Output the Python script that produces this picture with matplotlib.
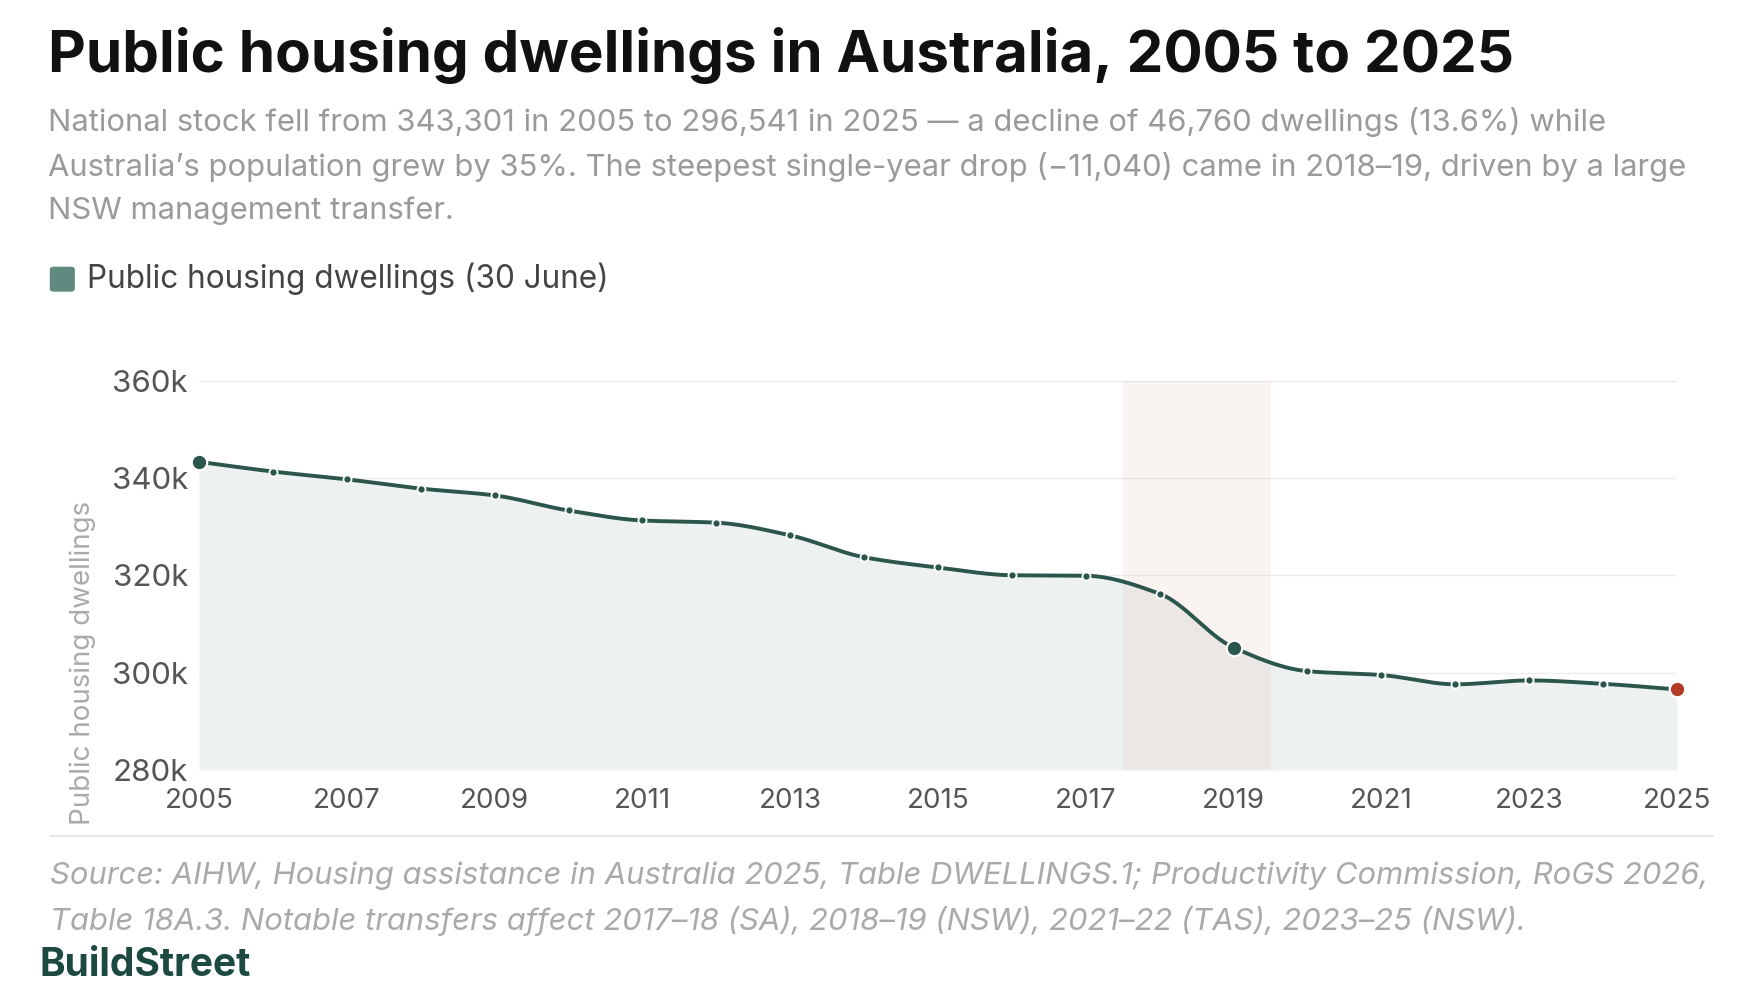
import matplotlib
matplotlib.use("Agg")
import matplotlib.pyplot as plt
from matplotlib.patches import FancyBboxPatch
import numpy as np

# data (30 June each year)
years = np.arange(2005, 2026)
dwellings = [
    343301, 341300, 339700, 337800, 336400, 333300, 331250, 330800, 328200,
    323700, 321600, 320000, 319900, 316200, 305160, 300300, 299500, 297600,
    298400, 297700, 296541,
]
y_ticks = [280000, 300000, 320000, 340000, 360000]
y_tick_labels = ["280k", "300k", "320k", "340k", "360k"]
x_ticks = list(range(2005, 2026, 2))
highlight = (2017.5, 2019.5)

title = "Public housing dwellings in Australia, 2005 to 2025"
subtitle = (
    "National stock fell from 343,301 in 2005 to 296,541 in 2025 \u2014 a decline of 46,760 dwellings (13.6%) while\n"
    "Australia\u2019s population grew by 35%. The steepest single-year drop (\u221211,040) came in 2018\u201319, driven by a large\n"
    "NSW management transfer."
)
source = (
    "Source: AIHW, Housing assistance in Australia 2025, Table DWELLINGS.1; Productivity Commission, RoGS 2026,\n"
    "Table 18A.3. Notable transfers affect 2017\u201318 (SA), 2018\u201319 (NSW), 2021\u201322 (TAS), 2023\u201325 (NSW)."
)

LINE = "#2b564d"
FILL = "#edf1ef"
RED = "#b23b26"

plt.rcParams["font.family"] = ["Inter", "DejaVu Sans"]


def monotone(x, y, xs):
    # monotone cubic path between the points (like d3 curveMonotoneX)
    x = np.asarray(x, float)
    y = np.asarray(y, float)
    h = np.diff(x)
    d = np.diff(y) / h
    m = np.zeros_like(y)
    for k in range(1, len(y) - 1):
        if d[k - 1] * d[k] > 0:
            w1 = 2 * h[k] + h[k - 1]
            w2 = h[k] + 2 * h[k - 1]
            m[k] = (w1 + w2) / (w1 / d[k - 1] + w2 / d[k])
    m[0] = d[0]
    m[-1] = d[-1]
    idx = np.clip(np.searchsorted(x, xs) - 1, 0, len(x) - 2)
    t = (xs - x[idx]) / h[idx]
    h00 = 2 * t**3 - 3 * t**2 + 1
    h10 = t**3 - 2 * t**2 + t
    h01 = -2 * t**3 + 3 * t**2
    h11 = t**3 - t**2
    return h00 * y[idx] + h10 * h[idx] * m[idx] + h01 * y[idx + 1] + h11 * h[idx] * m[idx + 1]


fig = plt.figure(figsize=(17.6, 10), dpi=100)
ax = fig.add_axes([0.1131, 0.230, 0.8397, 0.3895])

xs = np.linspace(years[0], years[-1], 800)
ys = monotone(years, dwellings, xs)

ax.fill_between(xs, ys, 280000, color=FILL, lw=0, zorder=1)
ax.axvspan(*highlight, color="#d9b3a6", alpha=0.15, lw=0, zorder=2)
ax.plot(xs, ys, color=LINE, lw=2.8, zorder=3, solid_capstyle="round")
ax.scatter(years[1:-1], dwellings[1:-1], s=34, color=LINE, edgecolor="white", linewidth=1.3, zorder=4)
big = [0, 14]
ax.scatter(years[big], [dwellings[i] for i in big], s=125, color=LINE, edgecolor="white", linewidth=1.6,
           zorder=5, clip_on=False)
ax.scatter(years[-1:], dwellings[-1:], s=125, color=RED, edgecolor="white", linewidth=1.6, zorder=5,
           clip_on=False)

ax.set_xlim(2005, 2025)
ax.set_ylim(280000, 360000)
ax.set_yticks(y_ticks)
ax.set_yticklabels(y_tick_labels)
ax.set_xticks(x_ticks)
ax.set_xticklabels([str(y) for y in x_ticks])
for gy in y_ticks[1:]:
    ax.axhline(gy, color="#ececec", lw=1.0, zorder=0)
for s in ax.spines.values():
    s.set_visible(False)
ax.tick_params(axis="x", length=0, labelsize=20, labelcolor="#555555", pad=13)
ax.tick_params(axis="y", length=0, labelsize=22.5, labelcolor="#555555", pad=8)

fig.text(0.047, 0.337, "Public housing dwellings", rotation=90, ha="center", va="center",
         fontsize=20, color="#aaaaaa")

fig.text(0.027, 0.945, title, fontsize=42, fontweight="bold", color="#111111", va="center")
fig.text(0.027, 0.834, subtitle, fontsize=22.3, color="#9a9a9a", va="center", linespacing=1.65)

fig.patches.append(FancyBboxPatch((0.0287, 0.709), 0.0134, 0.0236, transform=fig.transFigure,
                                  boxstyle="round,pad=0,rounding_size=0.002", color="#5e8a7f",
                                  figure=fig))
fig.text(0.0497, 0.721, "Public housing dwellings (30 June)", fontsize=22.7, color="#444444", va="center")

fig.add_artist(plt.Line2D([0.0284, 0.9733], [0.164, 0.164], color="#e3e3e3", lw=1.2))
fig.text(0.0284, 0.101, source, fontsize=22.3, style="italic", color="#aaaaaa", va="center", linespacing=1.65)
fig.text(0.0227, 0.034, "BuildStreet", fontsize=28, fontweight="bold", color="#1c4a40", va="center")

fig.savefig("out.png", dpi=100, facecolor="white")
